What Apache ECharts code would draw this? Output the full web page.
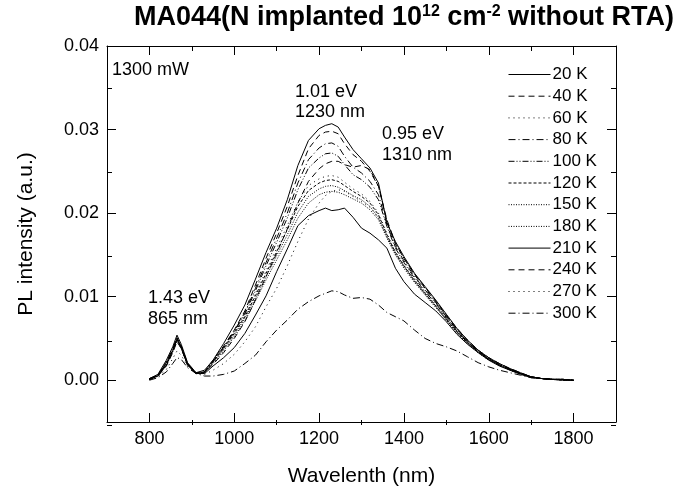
<!DOCTYPE html>
<html>
<head>
<meta charset="utf-8">
<script src="https://cdn.jsdelivr.net/npm/echarts@6/dist/echarts.min.js"></script>
<style>html,body{margin:0;padding:0;background:#fff}#c{width:674px;height:492px}</style>
</head>
<body>
<div id="c"></div>
<script>
const wavelength = [800,820,840,855,865,875,890,910,930,950,975,1000,1025,1050,1075,1100,1125,1150,1175,1200,1215,1230,1245,1260,1280,1300,1320,1340,1360,1380,1400,1425,1450,1475,1500,1525,1550,1575,1600,1625,1650,1675,1700,1725,1750,1775,1800];

const temps = ['20 K','40 K','60 K','80 K','100 K','120 K','150 K','180 K','210 K','240 K','270 K','300 K'];

const k20  = [0.0002,0.0007,0.0024,0.0040,0.0054,0.0043,0.0021,0.0009,0.0012,0.0024,0.0044,0.0066,0.0090,0.0121,0.0153,0.0182,0.0216,0.0257,0.0287,0.0301,0.0305,0.0307,0.0303,0.0291,0.0276,0.0265,0.0254,0.0236,0.0188,0.0166,0.0148,0.0128,0.0112,0.0096,0.0079,0.0062,0.0048,0.0036,0.0027,0.0020,0.0014,0.0009,0.0004,0.0002,0.0001,0.0001,0.0000];
const k40  = [0.0002,0.0006,0.0022,0.0037,0.0051,0.0041,0.0020,0.0009,0.0010,0.0024,0.0041,0.0060,0.0083,0.0114,0.0146,0.0176,0.0208,0.0245,0.0277,0.0293,0.0297,0.0298,0.0295,0.0283,0.0270,0.0262,0.0250,0.0232,0.0190,0.0163,0.0146,0.0126,0.0110,0.0094,0.0077,0.0061,0.0047,0.0035,0.0026,0.0019,0.0013,0.0008,0.0004,0.0002,0.0001,0.0001,0.0000];
const k60  = [0.0002,0.0006,0.0021,0.0037,0.0050,0.0041,0.0020,0.0009,0.0010,0.0022,0.0039,0.0057,0.0077,0.0103,0.0131,0.0158,0.0185,0.0213,0.0233,0.0241,0.0244,0.0245,0.0243,0.0237,0.0229,0.0223,0.0214,0.0200,0.0176,0.0154,0.0138,0.0120,0.0104,0.0090,0.0074,0.0058,0.0045,0.0034,0.0025,0.0018,0.0013,0.0008,0.0004,0.0002,0.0001,0.0000,0.0000];
const k80  = [0.0001,0.0006,0.0021,0.0038,0.0050,0.0040,0.0019,0.0008,0.0010,0.0023,0.0040,0.0059,0.0081,0.0110,0.0141,0.0170,0.0200,0.0236,0.0264,0.0278,0.0283,0.0284,0.0280,0.0268,0.0255,0.0248,0.0238,0.0222,0.0186,0.0160,0.0143,0.0124,0.0108,0.0093,0.0076,0.0060,0.0046,0.0035,0.0026,0.0019,0.0013,0.0008,0.0004,0.0002,0.0001,0.0001,0.0000];
const k100 = [0.0001,0.0006,0.0020,0.0036,0.0049,0.0040,0.0019,0.0008,0.0010,0.0022,0.0039,0.0058,0.0079,0.0107,0.0137,0.0165,0.0194,0.0228,0.0254,0.0266,0.0271,0.0272,0.0268,0.0258,0.0246,0.0240,0.0231,0.0216,0.0184,0.0158,0.0141,0.0122,0.0106,0.0092,0.0075,0.0059,0.0046,0.0034,0.0025,0.0018,0.0013,0.0008,0.0004,0.0002,0.0001,0.0000,0.0000];
const k120 = [0.0001,0.0006,0.0020,0.0036,0.0049,0.0040,0.0019,0.0008,0.0010,0.0022,0.0038,0.0056,0.0076,0.0101,0.0128,0.0154,0.0180,0.0208,0.0227,0.0236,0.0239,0.0240,0.0238,0.0233,0.0226,0.0220,0.0212,0.0198,0.0174,0.0153,0.0137,0.0119,0.0104,0.0089,0.0073,0.0058,0.0045,0.0034,0.0025,0.0018,0.0013,0.0008,0.0004,0.0002,0.0001,0.0001,0.0000];
const k150 = [0.0001,0.0005,0.0019,0.0035,0.0048,0.0039,0.0019,0.0008,0.0009,0.0021,0.0037,0.0054,0.0074,0.0098,0.0124,0.0149,0.0174,0.0201,0.0220,0.0229,0.0232,0.0233,0.0231,0.0227,0.0221,0.0216,0.0208,0.0195,0.0172,0.0151,0.0136,0.0118,0.0103,0.0088,0.0072,0.0057,0.0044,0.0033,0.0025,0.0018,0.0012,0.0008,0.0004,0.0002,0.0001,0.0000,0.0000];
const k180 = [0.0001,0.0005,0.0018,0.0034,0.0047,0.0038,0.0018,0.0008,0.0009,0.0020,0.0035,0.0052,0.0071,0.0095,0.0120,0.0144,0.0168,0.0194,0.0212,0.0222,0.0225,0.0226,0.0225,0.0222,0.0217,0.0212,0.0204,0.0192,0.0170,0.0150,0.0134,0.0117,0.0102,0.0087,0.0072,0.0057,0.0044,0.0033,0.0024,0.0018,0.0012,0.0008,0.0004,0.0002,0.0001,0.0001,0.0000];
const k210 = [0.0001,0.0005,0.0018,0.0035,0.0049,0.0039,0.0018,0.0008,0.0008,0.0017,0.0027,0.0039,0.0056,0.0078,0.0101,0.0130,0.0157,0.0185,0.0197,0.0203,0.0206,0.0203,0.0204,0.0206,0.0195,0.0182,0.0176,0.0168,0.0158,0.0134,0.0118,0.0103,0.0093,0.0083,0.0070,0.0055,0.0043,0.0033,0.0024,0.0017,0.0012,0.0007,0.0003,0.0002,0.0001,0.0000,0.0000];
const k240 = [0.0001,0.0005,0.0017,0.0033,0.0046,0.0038,0.0018,0.0008,0.0009,0.0019,0.0033,0.0050,0.0070,0.0096,0.0124,0.0152,0.0181,0.0212,0.0238,0.0253,0.0259,0.0262,0.0262,0.0258,0.0255,0.0257,0.0252,0.0232,0.0192,0.0164,0.0146,0.0127,0.0111,0.0095,0.0078,0.0062,0.0048,0.0036,0.0027,0.0020,0.0014,0.0009,0.0004,0.0002,0.0001,0.0001,0.0000];
const k270 = [0.0001,0.0004,0.0013,0.0026,0.0035,0.0030,0.0016,0.0008,0.0007,0.0012,0.0020,0.0031,0.0046,0.0064,0.0088,0.0110,0.0137,0.0166,0.0193,0.0212,0.0221,0.0226,0.0228,0.0226,0.0220,0.0214,0.0207,0.0194,0.0172,0.0152,0.0137,0.0120,0.0104,0.0089,0.0073,0.0058,0.0045,0.0034,0.0025,0.0018,0.0013,0.0008,0.0004,0.0002,0.0001,0.0000,0.0000];
const k300 = [0.0000,0.0003,0.0010,0.0020,0.0027,0.0025,0.0015,0.0008,0.0005,0.0005,0.0007,0.0011,0.0020,0.0030,0.0046,0.0060,0.0072,0.0085,0.0094,0.0101,0.0104,0.0107,0.0106,0.0102,0.0098,0.0099,0.0097,0.0090,0.0081,0.0076,0.0071,0.0060,0.0050,0.0044,0.0040,0.0035,0.0028,0.0021,0.0016,0.0012,0.0009,0.0006,0.0003,0.0002,0.0001,0.0001,0.0000];

const seriesValues = [k20,k40,k60,k80,k100,k120,k150,k180,k210,k240,k270,k300];

const xMajorTicks = [800,1000,1200,1400,1600,1800];
const xMinorTicks = [900,1100,1300,1500,1700];
const yMajorTicks = [0,0.01,0.02,0.03,0.04];
const yMinorTicks = [-0.005,0.005,0.015,0.025,0.035];

const dashTypes = ['solid',[6,4],[1,4],[7,3,1,3],[6,2,1,2,1,2],[3,2],[1,1.5],[1,1.5],'solid',[6,4],[1,4],[7,3,1,3]];

const FONT = 'Liberation Sans';
const black = '#000';
const GRID = {left:107, right:58, top:46, bottom:67, containLabel:false};

function xAx(grid, pos, ticks, len, showLine, labels, extra) {
  return Object.assign({
    type:'value', gridIndex:grid, min:700, max:1900, position:pos,
    axisLine:{show:showLine, onZero:false, lineStyle:{color:black,width:1}},
    axisTick:{show:true, inside:true, length:len, customValues:ticks, lineStyle:{color:black,width:1}},
    axisLabel:labels ? {show:true, customValues:ticks, color:black, fontSize:18, fontFamily:FONT, margin:8, formatter:v=>String(v)} : {show:false},
    splitLine:{show:false}
  }, extra||{});
}
function yAx(grid, pos, ticks, len, showLine, labels, extra) {
  return Object.assign({
    type:'value', gridIndex:grid, min:-0.005, max:0.04, position:pos,
    axisLine:{show:showLine, onZero:false, lineStyle:{color:black,width:1}},
    axisTick:{show:true, inside:true, length:len, customValues:ticks, lineStyle:{color:black,width:1}},
    axisLabel:labels ? {show:true, customValues:ticks, color:black, fontSize:18, fontFamily:FONT, margin:8, formatter:v=>v.toFixed(2)} : {show:false},
    splitLine:{show:false}
  }, extra||{});
}

const chart = echarts.init(document.getElementById('c'), null, {renderer:'canvas'});
chart.setOption({
  animation:false,
  backgroundColor:'#fff',
  title:{
    text:'MA044(N implanted 10{sup|12} cm{sup|-2} without RTA)',
    left:134, top:4, padding:0,
    textStyle:{
      fontFamily:FONT, fontSize:27, fontWeight:'bold', color:black,
      rich:{ sup:{fontFamily:FONT, fontSize:16, fontWeight:'bold', color:black, verticalAlign:'top', padding:[0,0,12,0]} }
    }
  },
  grid:[Object.assign({},GRID), Object.assign({},GRID)],
  xAxis:[
    xAx(0,'bottom', xMajorTicks, 9, true, true, {name:'Wavelenth (nm)', nameLocation:'middle', nameGap:44, nameTextStyle:{fontFamily:FONT, fontSize:21, color:black}}),
    xAx(0,'top', xMajorTicks, 9, true, false),
    xAx(1,'bottom', xMinorTicks, 5, false, false),
    xAx(1,'top', xMinorTicks, 5, false, false)
  ],
  yAxis:[
    yAx(0,'left', yMajorTicks, 9, true, true, {name:'PL intensity (a.u.)', nameLocation:'middle', nameGap:70, nameTextStyle:{fontFamily:FONT, fontSize:21, color:black}}),
    yAx(0,'right', yMajorTicks, 9, true, false),
    yAx(1,'left', yMinorTicks, 5, false, false),
    yAx(1,'right', yMinorTicks, 5, false, false)
  ],
  legend:{
    orient:'vertical', left:508, top:66, padding:0, itemWidth:42, itemHeight:14, itemGap:4.7,
    itemStyle:{opacity:0},
    lineStyle:{width:1},
    textStyle:{fontFamily:FONT, fontSize:17, lineHeight:14, color:black, padding:[0,0,0,-3]},
    data:temps
  },
  graphic:[
    {type:'text', x:112, y:70, style:{text:'1300 mW', font:'18px '+FONT, fill:black, verticalAlign:'middle'}},
    {type:'text', x:295, y:92, style:{text:'1.01 eV', font:'18px '+FONT, fill:black, verticalAlign:'middle'}},
    {type:'text', x:295, y:112, style:{text:'1230 nm', font:'18px '+FONT, fill:black, verticalAlign:'middle'}},
    {type:'text', x:382, y:134, style:{text:'0.95 eV', font:'18px '+FONT, fill:black, verticalAlign:'middle'}},
    {type:'text', x:382, y:155, style:{text:'1310 nm', font:'18px '+FONT, fill:black, verticalAlign:'middle'}},
    {type:'text', x:148, y:298, style:{text:'1.43 eV', font:'18px '+FONT, fill:black, verticalAlign:'middle'}},
    {type:'text', x:148, y:319, style:{text:'865 nm', font:'18px '+FONT, fill:black, verticalAlign:'middle'}}
  ],
  series: temps.map((t,i)=>({
    name:t, type:'line', xAxisIndex:0, yAxisIndex:0,
    symbol:'none', showSymbol:false, smooth:false,
    lineStyle:{color:black, width:1, type:dashTypes[i]},
    itemStyle:{color:black},
    data: wavelength.map((w,j)=>[w, seriesValues[i][j]])
  }))
});
</script>
</body>
</html>
